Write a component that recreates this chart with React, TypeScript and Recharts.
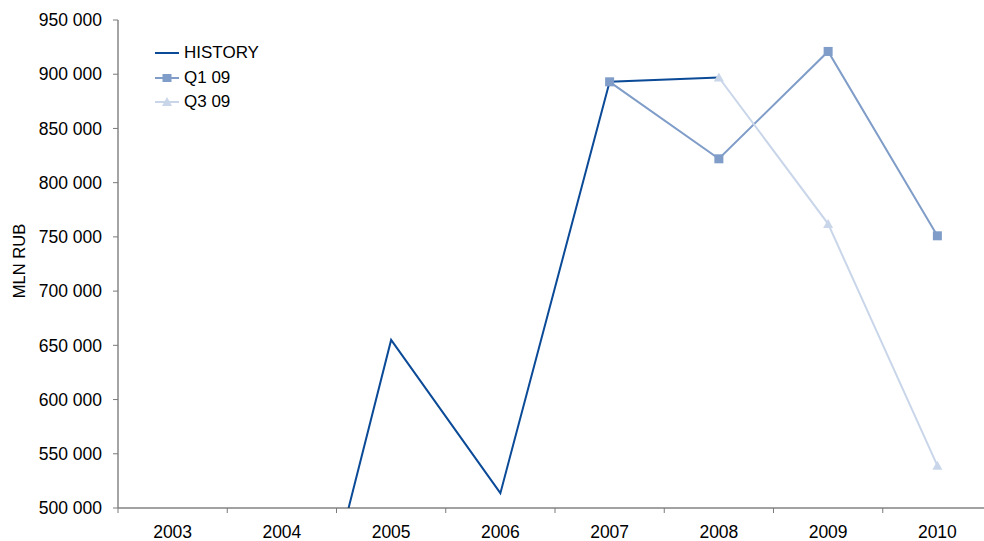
import React from 'react';
import { LineChart, Line, XAxis, YAxis, Legend } from 'recharts';

// Categories and series values (MLN RUB)
const years = ['2003', '2004', '2005', '2006', '2007', '2008', '2009', '2010'];
const historyValues: (number | null)[] = [null, 257000, 655000, 513700, 893000, 897000, null, null];
const q1Values: (number | null)[] = [null, null, null, null, 893000, 822000, 921000, 751000];
const q3Values: (number | null)[] = [null, null, null, null, null, 897000, 762000, 539000];
const yTicks = [500000, 550000, 600000, 650000, 700000, 750000, 800000, 850000, 900000, 950000];

const data = years.map((year, i) => ({
  year,
  history: historyValues[i],
  q1: q1Values[i],
  q3: q3Values[i],
}));

const COLORS = {
  history: '#0B4A97',
  q1: '#7F9DC8',
  q3: '#C9D6EA',
};

const CHART_W = 1000;
const CHART_H = 541;
const MARGIN = { top: 20, right: 8, left: 0, bottom: 3 };
const Y_AXIS_W = 118;
const PLOT_W = CHART_W - MARGIN.left - MARGIN.right - Y_AXIS_W;
const HALF_STEP = PLOT_W / years.length / 2;
const FONT = "'Liberation Sans', Arial, sans-serif";
const TICK_FONT_SIZE = 17.5;

const formatThousands = (v: number) =>
  String(v).replace(/\B(?=(\d{3})+(?!\d))/g, ' ');

// Category tick: label centred on the point, tick marks on the category boundaries
const YearTick = (props: any) => {
  const { x, y, payload, index } = props;
  return (
    <g>
      <line x1={x - HALF_STEP} x2={x - HALF_STEP} y1={y} y2={y + 5} stroke="#7a7a7a" strokeWidth={1} />
      {index === years.length - 1 && (
        <line x1={x + HALF_STEP} x2={x + HALF_STEP} y1={y} y2={y + 5} stroke="#7a7a7a" strokeWidth={1} />
      )}
      <text x={x} y={y + 30} textAnchor="middle" fontSize={TICK_FONT_SIZE} fill="#000" fontFamily={FONT}>
        {payload.value}
      </text>
    </g>
  );
};

const SquareDot = (props: any) => {
  const { cx, cy, stroke } = props;
  if (cx == null || cy == null) return null;
  return <rect x={cx - 4.5} y={cy - 4.5} width={9} height={9} fill={stroke} />;
};

const TriangleDot = (props: any) => {
  const { cx, cy, stroke } = props;
  if (cx == null || cy == null) return null;
  return <polygon points={`${cx},${cy - 5} ${cx + 5},${cy + 4} ${cx - 5},${cy + 4}`} fill={stroke} />;
};

const LegendIcon = ({ color, marker }: { color: string; marker: string }) => (
  <svg width={24} height={12} style={{ display: 'block' }}>
    <line x1={0} x2={24} y1={6} y2={6} stroke={color} strokeWidth={2} />
    {marker === 'square' && <rect x={7.5} y={2} width={9} height={8} fill={color} />}
    {marker === 'triangle' && <polygon points="12,1 17,10 7,10" fill={color} />}
  </svg>
);

const markerFor: Record<string, string> = { history: 'none', q1: 'square', q3: 'triangle' };

const renderLegend = (props: any) => {
  const { payload } = props;
  return (
    <div style={{ display: 'flex', flexDirection: 'column', fontFamily: FONT }}>
      {payload.map((entry: any) => (
        <div key={entry.value} style={{ display: 'flex', alignItems: 'center', height: 24.5 }}>
          <LegendIcon color={entry.color} marker={markerFor[entry.dataKey]} />
          <span style={{ marginLeft: 5, fontSize: 17, color: '#000' }}>{entry.value}</span>
        </div>
      ))}
    </div>
  );
};

export default function App() {
  return (
    <div
      style={{
        position: 'absolute',
        left: 0,
        top: 0,
        width: 984,
        height: 541,
        overflow: 'hidden',
        background: '#fff',
      }}
    >
      <LineChart width={CHART_W} height={CHART_H} data={data} margin={MARGIN} style={{ fontFamily: FONT }}>
        <XAxis
          dataKey="year"
          interval={0}
          padding={{ left: HALF_STEP, right: HALF_STEP }}
          tickSize={0}
          tickMargin={0}
          tickLine={false}
          axisLine={{ stroke: '#444', strokeWidth: 1 }}
          tick={<YearTick />}
          height={30}
        />
        <YAxis
          width={Y_AXIS_W}
          domain={[500000, 950000]}
          ticks={yTicks}
          allowDataOverflow
          tickFormatter={formatThousands}
          tickSize={5}
          tickMargin={11}
          axisLine={{ stroke: '#868686', strokeWidth: 1.5 }}
          tickLine={{ stroke: '#7a7a7a' }}
          tick={{ fill: '#000', fontSize: TICK_FONT_SIZE, fontFamily: FONT }}
          label={{
            value: 'MLN RUB',
            angle: -90,
            position: 'insideLeft',
            offset: 19,
            dy: -3,
            style: { textAnchor: 'middle', fontSize: 16.5, fill: '#000', fontFamily: FONT },
          }}
        />
        <Legend
          layout="vertical"
          align="center"
          verticalAlign="middle"
          content={renderLegend}
          wrapperStyle={{ left: 155, top: 41, width: 'auto', height: 'auto' }}
        />
        <Line
          dataKey="history"
          name="HISTORY"
          stroke={COLORS.history}
          strokeWidth={2}
          dot={false}
          activeDot={false}
          isAnimationActive={false}
        />
        <Line
          dataKey="q1"
          name="Q1 09"
          stroke={COLORS.q1}
          strokeWidth={2}
          dot={<SquareDot />}
          activeDot={false}
          isAnimationActive={false}
        />
        <Line
          dataKey="q3"
          name="Q3 09"
          stroke={COLORS.q3}
          strokeWidth={2}
          dot={<TriangleDot />}
          activeDot={false}
          isAnimationActive={false}
        />
      </LineChart>
    </div>
  );
}
